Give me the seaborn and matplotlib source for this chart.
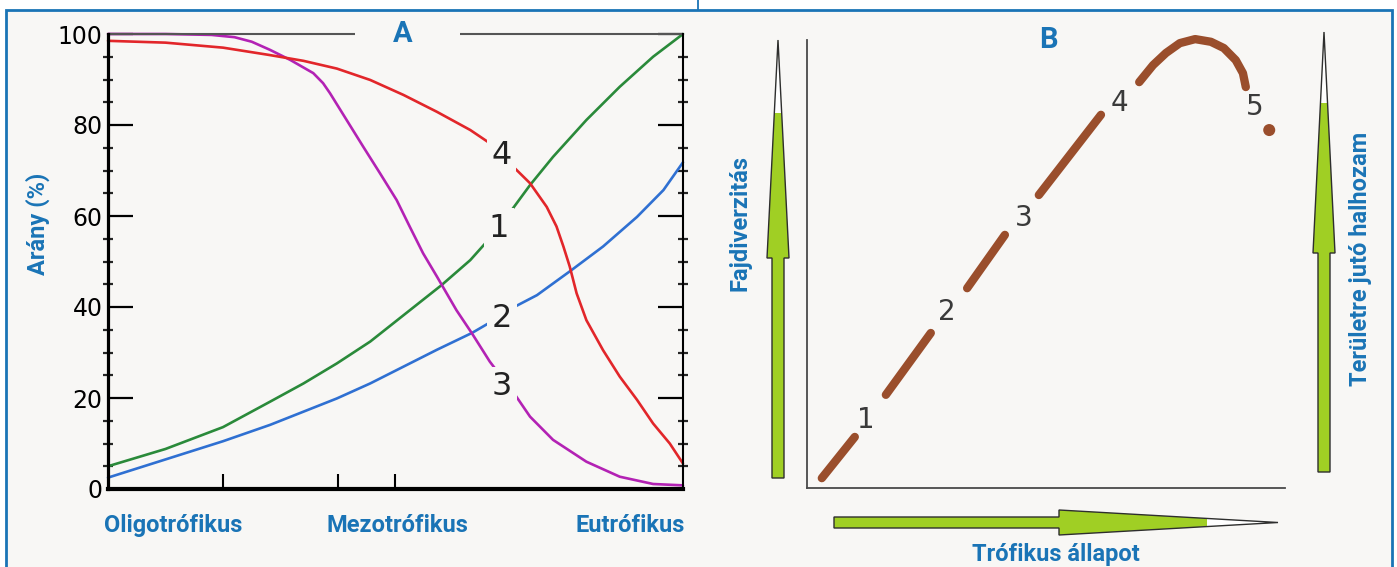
import numpy as np
import pandas as pd
import matplotlib
matplotlib.use("Agg")
import matplotlib.pyplot as plt
from matplotlib.patches import Polygon, Rectangle
from matplotlib.transforms import blended_transform_factory
import seaborn as sns

# ---------------- Panel A: share (%) of four groups along the trophic gradient
green_x = [0, 10, 20, 28.2, 34, 39.8, 45.6, 51.4, 58, 63, 66.4, 70.2, 73.4,
           77.4, 83.2, 89, 94.8, 100]
green_y = [5, 8.8, 13.6, 19.2, 23.2, 27.6, 32.4, 38.2, 44.8, 50.3, 55.1, 61.3,
           66.8, 73, 81.1, 88.4, 95, 100]
blue_x = [0, 10, 20, 28.2, 34, 39.8, 45.6, 51.4, 57.2, 63.3, 66.7, 70.8, 74.6,
          80.6, 86.1, 92, 96.6, 100]
blue_y = [2.5, 6.5, 10.5, 14.1, 17, 19.9, 23.2, 26.9, 30.6, 34.3, 36.8, 40.1,
          42.6, 48.1, 53.3, 59.8, 65.7, 71.8]
magenta_x = [0, 10, 18, 22, 25, 28.2, 31.7, 35.7, 37.4, 38.6, 41.5, 44.4, 47.3,
             50.2, 52.5, 54.8, 57.2, 60.6, 63.3, 66.4, 70.8, 73.4, 77.4, 83.2,
             89, 94.8, 100]
magenta_y = [100, 100, 99.8, 99.3, 98.3, 96.5, 94.3, 91.4, 89.2, 87, 81.1, 75.2,
             69.4, 63.5, 57.6, 51.8, 46.7, 39.3, 34.2, 28, 20.7, 15.9, 10.8, 6,
             2.7, 1.1, 0.8]
red_x = [0, 10, 20, 28, 34, 39.8, 45.6, 51.4, 57.2, 63, 66.4, 70.5, 73.4, 76.3,
         78, 79.2, 80.3, 81.5, 83.2, 86.1, 89, 92, 94.8, 97.7, 100]
red_y = [98.5, 98.1, 97, 95.4, 94.1, 92.4, 89.9, 86.6, 82.9, 78.9, 76, 70.8,
         67.2, 62, 57.7, 53.3, 48.9, 43, 37.1, 30.5, 24.7, 19.6, 14.4, 10, 5.6]

curve_names = ["1", "2", "3", "4"]
curve_label_x = [68.0, 68.5, 68.5, 68.5]
curve_label_y = [57.3, 37.5, 22.5, 73.2]

stage_labels = ["Oligotrófikus", "Mezotrófikus", "Eutrófikus"]
stage_pos = [11.3, 50.4, 90.8]
stage_ticks = [20, 40, 50]

y_ticks = [0, 20, 40, 60, 80, 100]
y_tick_labels = ["0", "20", "40", "60", "80", "100"]

# ---------------- Panel B: species diversity along the trophic state
B_x = [3.1, 10.0, 16.5, 25.9, 33.5, 41.4, 48.5, 61.5,
       69.5, 72.4, 75.1, 78.0, 81.2, 84.5, 87.2, 89.7, 91.2, 91.8]
B_y = [2.2, 11.4, 20.8, 34.6, 44.6, 56.5, 65.4, 83.3,
       90.6, 94.4, 97.1, 99.3, 100.2, 99.6, 98.2, 95.5, 92.6, 89.5]
B_seg = [1, 1, 2, 2, 3, 3, 4, 4, 5, 5, 5, 5, 5, 5, 5, 5, 5, 5]
B_dot_x = [96.7]
B_dot_y = [79.9]
B_labels = ["1", "2", "3", "4", "5"]
B_label_x = [12.3, 29.3, 45.4, 65.3, 93.7]
B_label_y = [15.2, 39.3, 60.3, 85.9, 85.0]

# ---------------- style
BLUE = "#1a74b6"
BG = "#f8f7f5"
ARROW_GREEN = "#a0cf24"
BROWN = "#9a4e2c"
palette = {"1": "#2a8a3a", "2": "#2f70d2", "3": "#b322b4", "4": "#e2262a"}
DIGITS = ["Liberation Sans Narrow", "DejaVu Sans"]

sns.set_theme(style="white")
plt.rcParams["font.family"] = ["DejaVu Sans"]

W, H = 1397, 567
fig = plt.figure(figsize=(W / 100, H / 100), dpi=100, facecolor="white")


def frac(left, top, right, bottom):
    return [left / W, 1 - bottom / H, (right - left) / W, (bottom - top) / H]


# decoration layer in pixel coordinates
deco = fig.add_axes([0, 0, 1, 1], zorder=0)
deco.set_xlim(0, W)
deco.set_ylim(H, 0)
deco.axis("off")
deco.add_patch(Rectangle((5.5, 9.5), 1386.5, 620, facecolor=BG,
                         edgecolor=BLUE, lw=2.0))
deco.plot([697.5, 697.5], [0, 9.5], color=BLUE, lw=1.3)

label_font = dict(family="Roboto", weight="bold", color=BLUE)


def vertical_arrow(ax, xc, tip, base, bottom, green_top, hw=22, sw=12):
    outline = [(xc - sw / 2, bottom), (xc - sw / 2, base), (xc - hw / 2, base),
               (xc, tip), (xc + hw / 2, base), (xc + sw / 2, base),
               (xc + sw / 2, bottom)]
    ax.add_patch(Polygon(outline, closed=True, facecolor=ARROW_GREEN,
                         edgecolor="none"))
    w = hw / 2 * (green_top - tip) / (base - tip)
    ax.add_patch(Polygon([(xc - w, green_top), (xc, tip), (xc + w, green_top)],
                         closed=True, facecolor="white", edgecolor="none"))
    ax.add_patch(Polygon(outline, closed=True, facecolor="none",
                         edgecolor="#2e2e2e", lw=1.0, joinstyle="miter"))


def horizontal_arrow(ax, yc, tip, base, left, green_end, hh=25, sh=11):
    outline = [(left, yc - sh / 2), (base, yc - sh / 2), (base, yc - hh / 2),
               (tip, yc), (base, yc + hh / 2), (base, yc + sh / 2),
               (left, yc + sh / 2)]
    ax.add_patch(Polygon(outline, closed=True, facecolor=ARROW_GREEN,
                         edgecolor="none"))
    h = hh / 2 * (tip - green_end) / (tip - base)
    ax.add_patch(Polygon([(green_end, yc - h), (tip, yc), (green_end, yc + h)],
                         closed=True, facecolor="white", edgecolor="none"))
    ax.add_patch(Polygon(outline, closed=True, facecolor="none",
                         edgecolor="#2e2e2e", lw=1.0, joinstyle="miter"))


vertical_arrow(deco, 778, 40, 258, 478, 113)
vertical_arrow(deco, 1324, 32, 253, 472, 103)
horizontal_arrow(deco, 522.5, 1278, 1059, 834, 1207)

deco.text(38, 224, "Arány (%)", rotation=90, ha="center", va="center",
          fontsize=17, **label_font)
deco.text(740, 223, "Fajdiverzitás", rotation=90, ha="center", va="center",
          fontsize=17, **label_font)
deco.text(1360, 259, "Területre jutó halhozam", rotation=90, ha="center",
          va="center", fontsize=17, **label_font)
deco.text(1056, 561, "Trófikus állapot", ha="center", va="baseline",
          fontsize=17, **label_font)

# ---------------- Panel A
axA = fig.add_axes(frac(108, 34, 683, 489), zorder=1)
axA.set_facecolor("none")
dfA = pd.concat([
    pd.DataFrame({"trophic": green_x, "share": green_y, "curve": "1"}),
    pd.DataFrame({"trophic": blue_x, "share": blue_y, "curve": "2"}),
    pd.DataFrame({"trophic": magenta_x, "share": magenta_y, "curve": "3"}),
    pd.DataFrame({"trophic": red_x, "share": red_y, "curve": "4"}),
], ignore_index=True)
sns.lineplot(data=dfA, x="trophic", y="share", hue="curve", palette=palette,
             estimator=None, legend=False, linewidth=1.9, ax=axA)
for ln in axA.lines:
    ln.set_clip_on(False)
    ln.set_solid_capstyle("round")
    ln.set_solid_joinstyle("round")

axA.set_xlim(0, 100)
axA.set_ylim(0, 100)
axA.set_xlabel("")
axA.set_ylabel("")
axA.spines["top"].set_visible(False)
axA.spines["left"].set_linewidth(2.3)
axA.spines["bottom"].set_linewidth(3.0)
axA.spines["right"].set_linewidth(1.5)
for s in ("left", "bottom", "right"):
    axA.spines[s].set_color("black")
# upper frame line, broken around the panel letter
axA.hlines([100, 100], [0, 61.2], [43, 100], color="#555555", lw=1.5,
           clip_on=False)

axA.set_yticks(y_ticks)
axA.set_yticklabels(y_tick_labels, family=DIGITS)
axA.set_yticks([v for v in range(5, 100, 5) if v % 20], minor=True)
axA.tick_params(axis="y", which="major", direction="in", length=18, width=1.6,
                left=True, right=True, labelsize=17, pad=4, colors="black")
axA.tick_params(axis="y", which="minor", direction="inout", length=6.5,
                width=1.6, left=True, right=True)
axA.set_xticks(stage_ticks)
axA.tick_params(axis="x", which="major", direction="in", length=11, width=1.5,
                bottom=True, labelbottom=False, colors="black")

for name, lx, ly in zip(curve_names, curve_label_x, curve_label_y):
    axA.text(lx, ly, name, fontsize=23, ha="center", va="center", zorder=5,
             color="#222222", family=DIGITS,
             bbox=dict(boxstyle="square,pad=0.14", fc=BG, ec="none"))

trans = blended_transform_factory(axA.transData, axA.transAxes)
for lab, pos in zip(stage_labels, stage_pos):
    axA.text(pos, -0.094, lab, transform=trans, ha="center", va="baseline",
             fontsize=17, **label_font)
axA.text(51.3, 100, "A", ha="center", va="center", fontsize=21, **label_font)

# ---------------- Panel B
axB = fig.add_axes(frac(807, 40, 1285, 488), zorder=1)
axB.set_facecolor("none")
dfB = pd.DataFrame({"trophic": B_x, "diversity": B_y, "seg": B_seg})
sns.lineplot(data=dfB, x="trophic", y="diversity", units="seg", estimator=None,
             color=BROWN, linewidth=6, solid_capstyle="round", ax=axB)
sns.scatterplot(x=B_dot_x, y=B_dot_y, color=BROWN, s=75, edgecolor="none",
                ax=axB)
for art in axB.lines + axB.collections:
    art.set_clip_on(False)
axB.set_xlim(0, 100)
axB.set_ylim(0, 100)
axB.set_xlabel("")
axB.set_ylabel("")
axB.set_xticks([])
axB.set_yticks([])
axB.spines["top"].set_visible(False)
axB.spines["right"].set_visible(False)
for s in ("left", "bottom"):
    axB.spines[s].set_color("#4a4a4a")
    axB.spines[s].set_linewidth(1.3)
for lab, lx, ly in zip(B_labels, B_label_x, B_label_y):
    axB.text(lx, ly, lab, fontsize=20, ha="center", va="center",
             color="#3a3a3a", family=DIGITS)
axB.text(50.6, 100, "B", ha="center", va="center", fontsize=21,
         transform=axB.transData, **label_font)

fig.savefig("out.png", dpi=100, facecolor="white")
